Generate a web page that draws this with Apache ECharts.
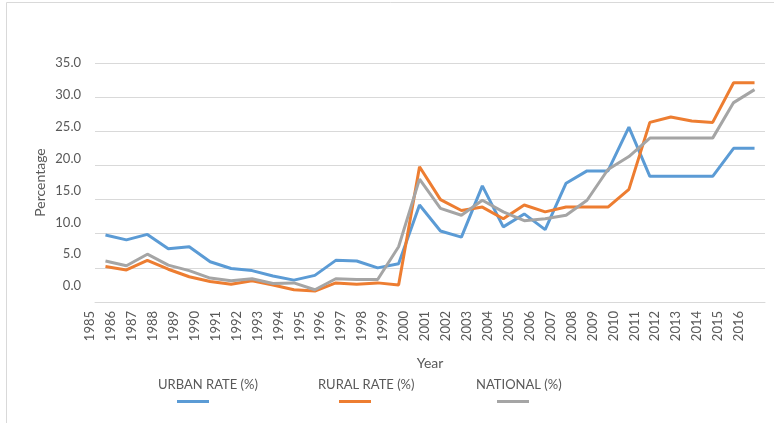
<!DOCTYPE html>
<html>
<head>
<meta charset="utf-8">
<script src="https://cdn.jsdelivr.net/npm/echarts@6/dist/echarts.min.js"></script>
<style>
  html, body { margin: 0; padding: 0; background: #fff; }
  #chart { width: 774px; height: 423px; }
</style>
</head>
<body>
<div id="chart"></div>
<script>
// tick labels along the bottom
var years = [];
for (var y = 1985; y <= 2016; y++) years.push(String(y));
// tick labels on the left
var yTicks = [0, 5, 10, 15, 20, 25, 30, 35];

// values
var urbanRate = [9.8, 9.1, 9.9, 7.8, 8.1, 5.9, 4.9, 4.6, 3.8, 3.2, 3.9, 6.1, 6.0, 5.0, 5.6,
  14.2, 10.4, 9.5, 17.0, 11.0, 12.9, 10.6, 17.4, 19.2, 19.2, 25.6, 18.4, 18.4, 18.4, 18.4, 22.5, 22.5];
var ruralRate = [5.2, 4.7, 6.1, 4.8, 3.7, 3.0, 2.6, 3.1, 2.5, 1.8, 1.6, 2.8, 2.6, 2.8, 2.5,
  19.8, 15.0, 13.4, 13.9, 12.2, 14.2, 13.2, 13.9, 13.9, 13.9, 16.5, 26.3, 27.1, 26.5, 26.3, 32.1, 32.1];
var nationalRate = [6.0, 5.3, 7.0, 5.4, 4.6, 3.5, 3.1, 3.4, 2.7, 2.8, 1.8, 3.4, 3.3, 3.3, 8.1,
  18.0, 13.7, 12.7, 14.9, 13.2, 11.9, 12.2, 12.7, 14.9, 19.4, 21.3, 24.0, 24.0, 24.0, 24.0, 29.2, 31.1];

var seriesNames = ["URBAN RATE (%)", "RURAL RATE (%)", "NATIONAL (%)"];
var colors = ["#5B9BD5", "#ED7D31", "#A5A5A5"];
var font = "Lato, 'Liberation Sans', sans-serif";
var textColor = "#595959";

var chart = echarts.init(document.getElementById("chart"));

// each series gets its label and its little line drawn underneath it
var textLeft = [148, 308, 466];
var iconLeft = [172, 334, 492];
var legends = [];
seriesNames.forEach(function (name, i) {
  legends.push({
    data: [name],
    left: textLeft[i],
    top: 373,
    icon: "rect",
    itemWidth: 0,
    itemHeight: 0,
    selectedMode: false,
    textStyle: { color: textColor, fontSize: 13, fontFamily: font }
  });
  legends.push({
    data: [name],
    left: iconLeft[i],
    top: 395,
    icon: "rect",
    itemWidth: 32,
    itemHeight: 3,
    selectedMode: false,
    formatter: function () { return ""; },
    textStyle: { fontSize: 1 }
  });
});

var option = {
  animation: false,
  color: colors,
  textStyle: { fontFamily: font },
  graphic: [{
    type: "rect",
    shape: { x: 6.5, y: 2.5, width: 900, height: 500 },
    style: { fill: null, stroke: "#d9d9d9", lineWidth: 1 },
    silent: true
  }],
  grid: { left: 95, right: 9, top: 63, bottom: 121 },
  legend: legends,
  xAxis: {
    type: "category",
    data: years,
    boundaryGap: true,
    name: "Year",
    nameLocation: "middle",
    nameGap: 54,
    nameTextStyle: { color: textColor, fontSize: 14, fontFamily: font },
    axisLine: { lineStyle: { color: "#d9d9d9" } },
    axisTick: { show: false },
    axisLabel: {
      interval: 0,
      rotate: 90,
      margin: 9,
      verticalAlign: "bottom",
      padding: [0, 0, 9, 0],
      color: textColor,
      fontSize: 13,
      fontFamily: font
    }
  },
  yAxis: [{
    // gridlines and the scale the lines are drawn on
    type: "value",
    min: 0,
    max: 35,
    interval: 5,
    name: "Percentage",
    nameLocation: "middle",
    nameGap: 48,
    nameTextStyle: { color: textColor, fontSize: 14, fontFamily: font },
    axisLine: { show: false },
    axisTick: { show: false },
    splitLine: { lineStyle: { color: "#d9d9d9" } },
    axisLabel: { show: false }
  }, {
    // the labels in the original sit a little above their gridlines
    type: "value",
    position: "left",
    min: -2.5,
    max: 35,
    axisLine: { show: false },
    axisTick: { show: false },
    splitLine: { show: false },
    axisLabel: {
      customValues: yTicks,
      margin: 14,
      color: textColor,
      fontSize: 13,
      fontFamily: font,
      formatter: function (v) { return v.toFixed(1); }
    }
  }],
  series: [
    { name: seriesNames[0], type: "line", data: urbanRate, showSymbol: false, lineStyle: { width: 3 } },
    { name: seriesNames[1], type: "line", data: ruralRate, showSymbol: false, lineStyle: { width: 3 } },
    { name: seriesNames[2], type: "line", data: nationalRate, showSymbol: false, lineStyle: { width: 3 } }
  ]
};
chart.setOption(option);
</script>
</body>
</html>
